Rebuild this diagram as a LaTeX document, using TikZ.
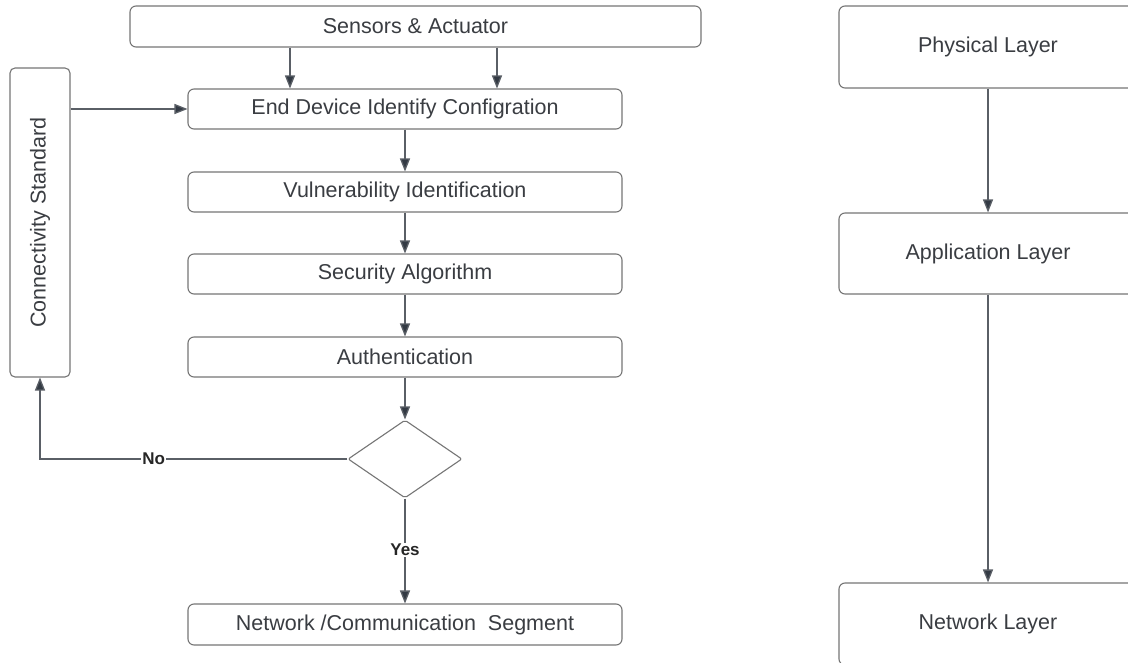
\documentclass[tikz,border=0pt]{standalone}
\usepackage{fontspec}
\setmainfont{Liberation Sans}
\usetikzlibrary{arrows.meta,shapes.geometric}
\definecolor{edgegray}{HTML}{767676}
\definecolor{txtgray}{HTML}{3A3D42}
\definecolor{linegray}{HTML}{5A5F66}
\definecolor{headdark}{HTML}{333A44}

\begin{document}
\begin{tikzpicture}[x=1pt, y=-1pt, every node/.style={text=txtgray, font=\fontsize{21.5}{24}\selectfont}, arr/.style={draw=linegray, line width=1.3pt, -{Triangle[length=13pt, width=10pt, fill=headdark]}}, box/.style={draw=edgegray, line width=1.1pt, rounded corners=6pt, fill=white, inner sep=0pt, minimum width=434pt, minimum height=40pt}, layer/.style={draw=edgegray, line width=1.1pt, rounded corners=6pt, fill=white, inner sep=0pt, minimum width=298pt, minimum height=82pt}, dec/.style={draw=edgegray, line width=1.1pt, diamond, rounded corners=2pt, inner sep=0pt, minimum width=114pt, minimum height=78pt}, yn/.style={fill=white, inner sep=1pt, text=black!85, font=\fontsize{17}{19}\selectfont\bfseries}]
	\clip (0,0) rectangle (1128,663);
	\fill[white] (0,0) rectangle (1128,663);
	% left flow
	\node[box, minimum width=571pt, minimum height=41pt] (sens) at (415.5,26.5) {Sensors \& Actuator};
	\foreach \nm/\yy/\txt in {endd/109/End Device Identify Configration, vuln/192/Vulnerability Identification, secu/274/Security Algorithm, auth/357/Authentication} {\node[box] (\nm) at (405,\yy) {\txt};}
	\node[dec] (dec) at (405,459) {};
	\node[box, minimum height=41pt] (netw) at (405,624.5) {Network /Communication~ Segment};
	\node[box, minimum width=60pt, minimum height=309pt, rounded corners=5pt] (conn) at (40,222.5) {};
	\node[rotate=90] (conntxt) at (conn.center) {Connectivity Standard};
	\foreach \xx in {290,497} {\draw[arr] (\xx,0 |- sens.south) -- (\xx,0 |- endd.north);}
	\foreach \a/\b in {endd/vuln, vuln/secu, secu/auth, auth/dec} {\draw[arr] (\a) -- (\b);}
	\draw[arr] (conn.east |- endd) -- (endd.west);
	\draw[arr] (dec.west) -- node[yn, pos=0.63] (no) {No} (dec.west -| conn.south) -- (conn.south);
	\draw[arr] (dec.south) -- node[yn, pos=0.49] (yes) {Yes} (netw.north);
	% right stack
	\node[layer] (phys) at (988,47) {Physical Layer};
	\node[layer, minimum height=81pt] (appl) at (988,253.5) {Application Layer};
	\node[layer] (netl) at (988,624) {Network Layer};
	\draw[arr] (phys) -- (appl);
	\draw[arr] (appl) -- (netl);
\end{tikzpicture}
\end{document}
